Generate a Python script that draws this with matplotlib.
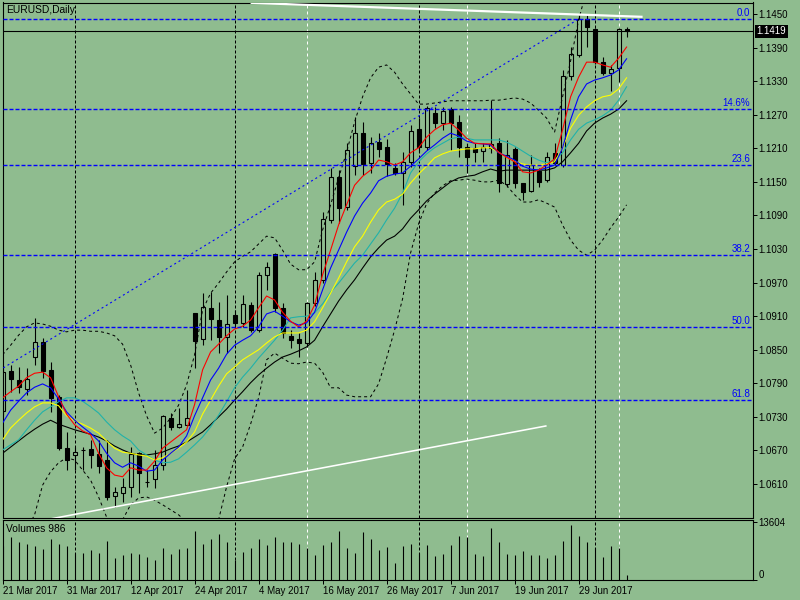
import matplotlib
matplotlib.use("Agg")
import matplotlib.pyplot as plt

plt.rcParams['font.family'] = ['Liberation Sans', 'DejaVu Sans']
plt.rcParams['lines.scale_dashes'] = False

BG = '#8FBC8F'

# ---------------- data ----------------
tick_dates = ["21 Mar 2017", "31 Mar 2017", "12 Apr 2017", "24 Apr 2017", "4 May 2017",
              "16 May 2017", "26 May 2017", "7 Jun 2017", "19 Jun 2017", "29 Jun 2017"]
tick_bars = [0, 8, 16, 24, 32, 40, 48, 56, 64, 72]

opens = [1.0741, 1.0812, 1.0796, 1.0780, 1.0837, 1.0864, 1.0814, 1.0766, 1.0674, 1.0662,
         1.0671, 1.0673, 1.0664, 1.0653, 1.0589, 1.0594, 1.0605, 1.0665, 1.0614, 1.0619,
         1.0644, 1.0728, 1.0712, 1.0716, 1.0916, 1.0869, 1.0925, 1.0903, 1.0873, 1.0912,
         1.0898, 1.0930, 1.0885, 1.0984, 1.1021, 1.0925, 1.0875, 1.0869, 1.0862, 1.0934,
         1.0975, 1.1082, 1.1159, 1.1105, 1.1178, 1.1237, 1.1184, 1.1221, 1.1212, 1.1175,
         1.1166, 1.1186, 1.1244, 1.1212, 1.1273, 1.1255, 1.1280, 1.1257, 1.1212, 1.1211,
         1.1205, 1.1211, 1.1219, 1.1146, 1.1209, 1.1148, 1.1134, 1.1169, 1.1153, 1.1202,
         1.1180, 1.1339, 1.1377, 1.1441, 1.1423, 1.1364, 1.1345, 1.1353, 1.1424]
highs = [1.0817, 1.0823, 1.0819, 1.0817, 1.0907, 1.0871, 1.0828, 1.0769, 1.0703, 1.0676,
         1.0676, 1.0689, 1.0689, 1.0689, 1.0605, 1.0621, 1.0676, 1.0667, 1.0635, 1.0671,
         1.0733, 1.0737, 1.0746, 1.0778, 1.0916, 1.0951, 1.0953, 1.0935, 1.0948, 1.0921,
         1.0948, 1.0935, 1.0989, 1.1007, 1.1023, 1.0934, 1.0885, 1.0880, 1.0935, 1.0989,
         1.1096, 1.1175, 1.1171, 1.1219, 1.1266, 1.1257, 1.1230, 1.1237, 1.1227, 1.1184,
         1.1203, 1.1252, 1.1264, 1.1286, 1.1284, 1.1284, 1.1284, 1.1269, 1.1219, 1.1219,
         1.1219, 1.1296, 1.1228, 1.1225, 1.1212, 1.1148, 1.1198, 1.1175, 1.1203, 1.1219,
         1.1350, 1.1391, 1.1448, 1.1448, 1.1425, 1.1373, 1.1359, 1.1425, 1.1427]
lows = [1.0733, 1.0775, 1.0773, 1.0769, 1.0823, 1.0800, 1.0739, 1.0671, 1.0635, 1.0635,
        1.0635, 1.0639, 1.0630, 1.0581, 1.0569, 1.0578, 1.0587, 1.0594, 1.0605, 1.0603,
        1.0635, 1.0707, 1.0710, 1.0716, 1.0817, 1.0858, 1.0867, 1.0844, 1.0844, 1.0891,
        1.0891, 1.0882, 1.0882, 1.0957, 1.0917, 1.0871, 1.0853, 1.0837, 1.0855, 1.0928,
        1.0969, 1.1076, 1.1076, 1.1100, 1.1162, 1.1162, 1.1166, 1.1194, 1.1160, 1.1162,
        1.1109, 1.1177, 1.1203, 1.1207, 1.1246, 1.1243, 1.1207, 1.1194, 1.1166, 1.1186,
        1.1186, 1.1202, 1.1132, 1.1141, 1.1139, 1.1118, 1.1132, 1.1141, 1.1150, 1.1180,
        1.1177, 1.1332, 1.1373, 1.1391, 1.1361, 1.1341, 1.1312, 1.1328, 1.1409]
closes = [1.0810, 1.0798, 1.0783, 1.0798, 1.0864, 1.0812, 1.0764, 1.0674, 1.0653, 1.0667,
          1.0671, 1.0662, 1.0642, 1.0587, 1.0596, 1.0605, 1.0664, 1.0630, 1.0614, 1.0644,
          1.0732, 1.0712, 1.0717, 1.0728, 1.0866, 1.0926, 1.0905, 1.0873, 1.0896, 1.0898,
          1.0932, 1.0885, 1.0984, 1.0998, 1.0925, 1.0880, 1.0867, 1.0862, 1.0934, 1.0975,
          1.1084, 1.1159, 1.1103, 1.1207, 1.1237, 1.1182, 1.1219, 1.1209, 1.1182, 1.1166,
          1.1186, 1.1241, 1.1212, 1.1282, 1.1255, 1.1277, 1.1255, 1.1212, 1.1194, 1.1203,
          1.1212, 1.1218, 1.1148, 1.1198, 1.1148, 1.1132, 1.1180, 1.1150, 1.1194, 1.1184,
          1.1339, 1.1379, 1.1441, 1.1427, 1.1364, 1.1345, 1.1352, 1.1423, 1.1419]
volumes = [8000, 10200, 9000, 8500, 8000, 7300, 9500, 8500, 8000, 6300,
           6300, 7000, 6300, 9200, 5100, 5800, 6300, 6100, 5300, 4600,
           7500, 6100, 7300, 7500, 11400, 8500, 9500, 10700, 9000, 4600,
           6600, 7500, 9500, 8300, 10200, 8800, 9000, 8500, 7500, 5800,
           8300, 9000, 11400, 7500, 6300, 11200, 9700, 7000, 7800, 3900,
           8000, 8500, 6300, 8300, 5600, 6100, 8300, 10400, 10000, 6100,
           5600, 12200, 9000, 6100, 5800, 6800, 5800, 5800, 5100, 5800,
           9200, 12900, 10400, 8800, 7500, 5300, 8000, 7500, 986]

ma_red = [1.0764, 1.0775, 1.0785, 1.0800, 1.0808, 1.0810, 1.0800, 1.0766, 1.0735, 1.0716,
          1.0705, 1.0698, 1.0665, 1.0639, 1.0626, 1.0623, 1.0639, 1.0635, 1.0635, 1.0651,
          1.0674, 1.0685, 1.0696, 1.0707, 1.0752, 1.0814, 1.0846, 1.0860, 1.0875, 1.0887,
          1.0892, 1.0903, 1.0925, 1.0946, 1.0939, 1.0917, 1.0901, 1.0891, 1.0901, 1.0930,
          1.0984, 1.1028, 1.1073, 1.1109, 1.1144, 1.1160, 1.1171, 1.1189, 1.1186, 1.1180,
          1.1186, 1.1202, 1.1211, 1.1230, 1.1243, 1.1252, 1.1255, 1.1243, 1.1228, 1.1219,
          1.1218, 1.1218, 1.1203, 1.1194, 1.1186, 1.1168, 1.1166, 1.1171, 1.1180, 1.1191,
          1.1243, 1.1302, 1.1337, 1.1364, 1.1364, 1.1359, 1.1355, 1.1371, 1.1391]
ma_blue = [1.0719, 1.0742, 1.0758, 1.0773, 1.0783, 1.0789, 1.0782, 1.0762, 1.0739, 1.0724,
           1.0712, 1.0701, 1.0687, 1.0665, 1.0648, 1.0640, 1.0648, 1.0642, 1.0633, 1.0635,
           1.0653, 1.0665, 1.0676, 1.0696, 1.0732, 1.0764, 1.0796, 1.0817, 1.0842, 1.0858,
           1.0867, 1.0875, 1.0891, 1.0914, 1.0919, 1.0910, 1.0900, 1.0894, 1.0898, 1.0917,
           1.0957, 1.0996, 1.1028, 1.1060, 1.1089, 1.1112, 1.1130, 1.1152, 1.1160, 1.1164,
           1.1166, 1.1178, 1.1191, 1.1205, 1.1216, 1.1228, 1.1237, 1.1232, 1.1223, 1.1219,
           1.1218, 1.1216, 1.1202, 1.1196, 1.1189, 1.1178, 1.1173, 1.1171, 1.1175, 1.1180,
           1.1211, 1.1261, 1.1302, 1.1325, 1.1332, 1.1336, 1.1341, 1.1350, 1.1370]
ma_yellow = [1.0689, 1.0710, 1.0724, 1.0737, 1.0748, 1.0755, 1.0755, 1.0750, 1.0732, 1.0723,
             1.0717, 1.0710, 1.0701, 1.0687, 1.0674, 1.0667, 1.0665, 1.0662, 1.0660, 1.0653,
             1.0657, 1.0665, 1.0674, 1.0685, 1.0703, 1.0735, 1.0760, 1.0785, 1.0807, 1.0819,
             1.0832, 1.0841, 1.0850, 1.0862, 1.0873, 1.0880, 1.0880, 1.0880, 1.0885, 1.0900,
             1.0925, 1.0951, 1.0978, 1.1007, 1.1034, 1.1053, 1.1078, 1.1100, 1.1114, 1.1119,
             1.1128, 1.1148, 1.1164, 1.1178, 1.1193, 1.1200, 1.1205, 1.1207, 1.1209, 1.1209,
             1.1211, 1.1211, 1.1203, 1.1194, 1.1187, 1.1182, 1.1180, 1.1180, 1.1182, 1.1186,
             1.1211, 1.1246, 1.1269, 1.1284, 1.1295, 1.1302, 1.1305, 1.1316, 1.1336]
ma_cyan = [1.0671, 1.0680, 1.0689, 1.0707, 1.0724, 1.0739, 1.0748, 1.0757, 1.0764, 1.0764,
           1.0758, 1.0748, 1.0737, 1.0721, 1.0707, 1.0696, 1.0687, 1.0671, 1.0662, 1.0653,
           1.0648, 1.0649, 1.0655, 1.0667, 1.0680, 1.0694, 1.0712, 1.0733, 1.0757, 1.0782,
           1.0801, 1.0817, 1.0835, 1.0851, 1.0867, 1.0885, 1.0907, 1.0909, 1.0910, 1.0916,
           1.0932, 1.0953, 1.0969, 1.0987, 1.1005, 1.1019, 1.1039, 1.1059, 1.1082, 1.1103,
           1.1130, 1.1166, 1.1186, 1.1200, 1.1211, 1.1219, 1.1227, 1.1230, 1.1228, 1.1225,
           1.1225, 1.1225, 1.1225, 1.1221, 1.1214, 1.1205, 1.1196, 1.1189, 1.1184, 1.1189,
           1.1202, 1.1225, 1.1244, 1.1255, 1.1261, 1.1268, 1.1278, 1.1296, 1.1320]
ma_black = [1.0665, 1.0676, 1.0687, 1.0698, 1.0708, 1.0717, 1.0724, 1.0717, 1.0712, 1.0707,
            1.0703, 1.0699, 1.0694, 1.0687, 1.0678, 1.0671, 1.0665, 1.0662, 1.0662, 1.0664,
            1.0667, 1.0673, 1.0678, 1.0685, 1.0694, 1.0703, 1.0716, 1.0730, 1.0744, 1.0760,
            1.0775, 1.0791, 1.0805, 1.0817, 1.0828, 1.0837, 1.0842, 1.0848, 1.0855, 1.0867,
            1.0891, 1.0914, 1.0937, 1.0957, 1.0975, 1.0996, 1.1016, 1.1032, 1.1046, 1.1053,
            1.1066, 1.1085, 1.1100, 1.1116, 1.1128, 1.1139, 1.1150, 1.1157, 1.1160, 1.1162,
            1.1168, 1.1173, 1.1169, 1.1171, 1.1171, 1.1171, 1.1171, 1.1171, 1.1171, 1.1175,
            1.1186, 1.1202, 1.1219, 1.1241, 1.1255, 1.1264, 1.1271, 1.1280, 1.1295]
bb_upper = [1.0841, 1.0858, 1.0876, 1.0891, 1.0898, 1.0896, 1.0892, 1.0885, 1.0882, 1.0885,
            1.0885, 1.0883, 1.0883, 1.0880, 1.0875, 1.0860, 1.0823, 1.0773, 1.0732, 1.0701,
            1.0710, 1.0728, 1.0751, 1.0787, 1.0841, 1.0921, 1.0951, 1.0969, 1.0989, 1.1007,
            1.1017, 1.1025, 1.1039, 1.1053, 1.1050, 1.1028, 1.1003, 1.0993, 1.0993, 1.1007,
            1.1064, 1.1109, 1.1157, 1.1203, 1.1257, 1.1302, 1.1336, 1.1355, 1.1359, 1.1346,
            1.1325, 1.1307, 1.1289, 1.1289, 1.1291, 1.1293, 1.1295, 1.1295, 1.1295, 1.1295,
            1.1295, 1.1296, 1.1296, 1.1298, 1.1300, 1.1298, 1.1291, 1.1278, 1.1264, 1.1239,
            1.1302, 1.1366, 1.1439, 1.1493, 1.1510, 1.1511, 1.1515, 1.1520, 1.1525]
bb_lower = [1.0501, 1.0501, 1.0510, 1.0528, 1.0555, 1.0608, 1.0632, 1.0648, 1.0657, 1.0653,
            1.0635, 1.0617, 1.0587, 1.0551, 1.0537, 1.0546, 1.0573, 1.0585, 1.0587, 1.0581,
            1.0573, 1.0564, 1.0555, 1.0542, 1.0528, 1.0519, 1.0528, 1.0546, 1.0605, 1.0655,
            1.0676, 1.0717, 1.0764, 1.0832, 1.0844, 1.0835, 1.0826, 1.0825, 1.0828, 1.0826,
            1.0810, 1.0782, 1.0782, 1.0769, 1.0766, 1.0766, 1.0766, 1.0789, 1.0835, 1.0885,
            1.0941, 1.1023, 1.1075, 1.1111, 1.1130, 1.1143, 1.1152, 1.1153, 1.1155, 1.1153,
            1.1150, 1.1150, 1.1153, 1.1144, 1.1127, 1.1114, 1.1114, 1.1118, 1.1112, 1.1105,
            1.1073, 1.1046, 1.1028, 1.1019, 1.1028, 1.1046, 1.1068, 1.1087, 1.1109]

price_ticks = [1.1450, 1.1390, 1.1330, 1.1270, 1.1210, 1.1150, 1.1090, 1.1030,
               1.0970, 1.0910, 1.0850, 1.0790, 1.0730, 1.0670, 1.0610]
price_tick_labels = ["1.1450", "1.1390", "1.1330", "1.1270", "1.1210", "1.1150", "1.1090", "1.1030",
                     "1.0970", "1.0910", "1.0850", "1.0790", "1.0730", "1.0670", "1.0610"]
bid_price = 1.1419

fib_labels = ["0.0", "14.6%", "23.6", "38.2", "50.0", "61.8"]
fib_prices = [1.1441, 1.1280, 1.1181, 1.1020, 1.0891, 1.0761]
fib_anchor_bars = [-55, 72]
fib_anchor_prices = [1.0340, 1.1441]

trend_top_bars = [31, 80]
trend_top_prices = [1.1470, 1.1445]
trend_bottom_bars = [5, 68]
trend_bottom_prices = [1.0545, 1.0714]

month_separators = [9, 29, 52, 74]
white_vlines = [38, 58, 77]

vol_ticks = [0, 13604]
vol_tick_labels = ["0", "13604"]

# ---------------- figure ----------------
PX = 0.72  # one pixel in points at dpi 100
FS = 7.0
fig = plt.figure(figsize=(8, 6), dpi=100, facecolor=BG)
ax = fig.add_axes([2.5 / 800, 82.5 / 600, 750 / 800, 515 / 600], facecolor=BG)
axv = fig.add_axes([2.5 / 800, 20.5 / 600, 750 / 800, 60 / 600], facecolor=BG)

n = len(closes)
bars = list(range(n))
xlim = (-0.01, 93.74)

for a in (ax, axv):
    a.set_xlim(*xlim)
    for s in a.spines.values():
        s.set_color('black')
        s.set_linewidth(PX * 1.1)

ax.set_ylim(1.05502, 1.14706)
axv.set_ylim(0, 14245)

# separators
for b in month_separators:
    for a in (ax, axv):
        a.axvline(b, color='black', lw=PX, dashes=(3 * PX, 2 * PX), zorder=1)
for b in white_vlines:
    for a in (ax, axv):
        a.axvline(b, color='white', lw=PX, dashes=(3 * PX, 3 * PX), zorder=1)

# candles
for i in bars:
    o, h, l, c = opens[i], highs[i], lows[i], closes[i]
    ax.vlines(i, l, h, color='black', lw=PX * 1.1, zorder=2)
    bottom = min(o, c)
    height = max(abs(c - o), 0.00003)
    fc = BG if c >= o else 'black'
    ax.bar(i, height, 0.5, bottom, facecolor=fc, edgecolor='black', lw=PX * 1.1, zorder=2.1)

# indicators
ax.plot(bars, bb_upper, color='black', lw=PX, dashes=(3 * PX, 3 * PX), zorder=3)
ax.plot(bars, bb_lower, color='black', lw=PX, dashes=(3 * PX, 3 * PX), zorder=3)
ax.plot(bars, ma_black, color='black', lw=PX * 1.1, zorder=3.1)
ax.plot(bars, ma_cyan, color='#20B2AA', lw=PX * 1.1, zorder=3.2)
ax.plot(bars, ma_yellow, color='#FFFF00', lw=PX * 1.1, zorder=3.3)
ax.plot(bars, ma_blue, color='#0000FF', lw=PX * 1.1, zorder=3.4)
ax.plot(bars, ma_red, color='#FF0000', lw=PX * 1.1, zorder=3.5)

# fibonacci
for p, lab in zip(fib_prices, fib_labels):
    ax.axhline(p, color='#0000FF', lw=PX * 1.4, dashes=(4 * PX, 2 * PX), zorder=3.6)
    ax.text(93.45, p + 3 * 0.0001787, lab, ha='right', va='baseline', color='#0000FF',
            fontsize=FS, zorder=4)
ax.plot(fib_anchor_bars, fib_anchor_prices, color='#0000FF', lw=PX * 1.1,
        dashes=(2 * PX, 3 * PX), zorder=3.6)

# trend lines
ax.plot(trend_top_bars, trend_top_prices, color='white', lw=PX * 2.2, zorder=3.7,
        solid_capstyle='butt')
ax.plot(trend_bottom_bars, trend_bottom_prices, color='white', lw=PX * 1.6, zorder=3.7,
        solid_capstyle='butt')

# bid line
ax.axhline(bid_price, color='black', lw=PX * 1.1, zorder=3.8)

# price axis
ax.yaxis.tick_right()
ax.set_yticks(price_ticks)
ax.set_yticklabels(price_tick_labels)
ax.tick_params(axis='y', direction='out', length=3, width=PX, pad=1.5, labelsize=FS,
               colors='black')
ax.tick_params(axis='x', bottom=False, labelbottom=False)
fig.text(756.5 / 800, 1 - 31.5 / 600, "1.1419", color='white', fontsize=FS,
         ha='left', va='center',
         bbox=dict(boxstyle='square,pad=0.15', fc='black', ec='none'))

# volumes
axv.vlines(bars, 0, volumes, color='black', lw=PX * 1.1, zorder=2)
axv.yaxis.tick_right()
axv.set_yticks(vol_ticks)
axv.set_yticklabels(vol_tick_labels)
axv.tick_params(axis='y', direction='out', length=3, width=PX, pad=1.5, labelsize=FS)
for t in axv.get_yticklabels():
    if t.get_text() == "0":
        t.set_va('bottom')
axv.set_xticks(tick_bars)
axv.set_xticklabels(tick_dates, ha='left')
axv.tick_params(axis='x', direction='out', length=3, width=PX, pad=1.5, labelsize=FS)

# titles
fig.text(6.5 / 800, 1 - 10 / 600, "EURUSD,Daily", fontsize=7.4, ha='left', va='center')
fig.text(6.5 / 800, 1 - 529 / 600, "Volumes 986", fontsize=7.4, ha='left', va='center')

fig.savefig("out.png", dpi=100, facecolor=BG)
